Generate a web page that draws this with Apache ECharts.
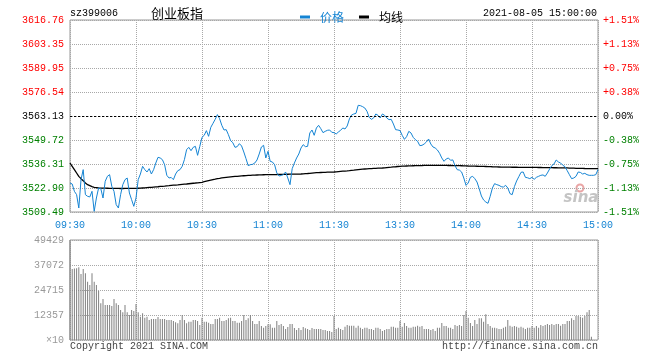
<!DOCTYPE html>
<html>
<head>
<meta charset="utf-8">
<script src="https://cdn.jsdelivr.net/npm/echarts@6/dist/echarts.min.js"></script>
<style>html,body{margin:0;padding:0;background:#fff;}#c{width:660px;height:360px;}</style>
</head>
<body>
<div id="c"></div>
<script>
// ---------- data ----------
const code = 'sz399006';
const title = '创业板指';
const stamp = '2021-08-05 15:00:00';
const preClose = 3563.13;
const timeLabels = ['09:30','10:00','10:30','11:00','11:30','13:30','14:00','14:30','15:00'];
const priceTicks = ['3509.49','3522.90','3536.31','3549.72','3563.13','3576.54','3589.95','3603.35','3616.76'];
const pctTicks = ['-1.51%','-1.13%','-0.75%','-0.38%','0.00%','+0.38%','+0.75%','+1.13%','+1.51%'];
const volTicks = ['\u00d710','12357','24715','37072','49429'];
const priceMin = 3509.49, priceMax = 3616.76;
const volMax = 49429;

const price = [
3525.70,3525.14,3521.04,3519.18,3511.73,3527.56,3533.15,3519.18,3518.25,3517.90,
3521.04,3509.86,3517.31,3522.90,3522.53,3517.31,3526.63,3529.42,3530.35,3523.83,
3521.04,3513.59,3511.73,3519.18,3524.76,3527.56,3528.49,3520.11,3516.38,3512.66,
3517.31,3527.56,3530.72,3535.01,3533.15,3531.84,3533.70,3530.72,3533.15,3536.87,
3540.04,3539.66,3538.73,3535.94,3529.98,3528.49,3528.80,3527.56,3530.72,3532.59,
3533.15,3535.01,3538.73,3544.32,3545.62,3543.76,3545.62,3546.18,3541.15,3546.18,
3551.21,3552.33,3554.94,3551.77,3556.80,3559.03,3561.27,3563.88,3561.64,3557.92,
3555.31,3555.50,3552.70,3549.35,3548.23,3545.62,3546.00,3547.67,3546.37,3543.02,
3539.29,3535.38,3535.94,3536.13,3536.87,3538.55,3541.90,3545.81,3546.74,3539.66,
3543.39,3537.80,3537.43,3535.94,3531.28,3529.61,3529.90,3530.35,3531.84,3528.49,
3524.76,3533.70,3536.87,3539.66,3541.90,3545.25,3547.11,3546.00,3546.18,3553.63,
3555.31,3552.33,3556.43,3557.92,3556.05,3553.82,3554.56,3555.12,3555.31,3554.01,
3553.82,3553.07,3554.19,3555.12,3556.43,3555.87,3557.54,3561.46,3563.69,3564.25,
3564.62,3569.09,3568.90,3568.35,3567.60,3565.74,3562.39,3561.27,3562.01,3564.25,
3563.50,3562.01,3564.25,3563.50,3562.01,3561.08,3561.27,3558.66,3555.50,3555.31,
3555.00,3552.33,3550.09,3551.58,3554.56,3553.63,3551.21,3549.91,3548.98,3546.56,
3546.74,3547.49,3548.60,3550.28,3547.49,3545.81,3545.25,3544.13,3542.27,3539.66,
3537.80,3539.11,3539.66,3538.36,3538.60,3535.38,3533.15,3532.90,3531.84,3528.49,
3524.39,3525.70,3528.86,3529.42,3528.12,3526.25,3522.53,3518.43,3516.20,3515.08,
3514.33,3518.25,3522.90,3525.32,3524.76,3524.39,3523.65,3523.40,3524.39,3522.90,
3519.74,3519.18,3523.65,3526.81,3529.23,3531.66,3531.84,3528.86,3528.60,3528.12,
3528.86,3527.74,3528.86,3529.42,3529.98,3530.20,3529.42,3531.28,3533.52,3535.38,
3536.31,3538.55,3537.43,3536.87,3535.57,3534.82,3532.59,3530.35,3528.12,3528.49,
3529.42,3531.84,3531.60,3530.72,3531.10,3530.35,3529.98,3529.98,3529.98,3530.35,
3533.15
];

const avgPrice = [
3536.87,3535.01,3533.15,3531.28,3529.42,3528.12,3527.00,3525.70,3524.76,3524.21,3523.65,3523.27,3523.09,
3522.90,3522.85,3522.80,3522.78,3522.75,3522.72,3522.70,3522.68,3522.66,3522.64,3522.62,3522.62,3522.64,3522.66,3522.66,3522.66,3522.68,3522.70,
3522.75,3522.80,3522.90,3523.00,3523.10,3523.20,3523.27,
3523.40,3523.50,3523.60,3523.75,3523.85,3523.95,3524.10,3524.21,
3524.33,3524.45,3524.55,3524.66,3524.78,3524.90,3525.02,3525.14,
3525.28,3525.42,3525.55,3525.68,3525.80,3525.94,3526.07,
3526.40,3526.70,3527.00,3527.30,3527.60,3527.85,3528.12,
3528.30,3528.50,3528.65,3528.80,3528.95,3529.10,3529.23,
3529.35,3529.45,3529.55,3529.65,3529.75,3529.82,3529.90,3529.98,
3530.05,3530.10,3530.15,3530.20,3530.25,3530.30,3530.33,3530.35,
3530.38,3530.40,3530.42,3530.44,3530.47,3530.50,3530.54,
3530.56,3530.58,3530.60,3530.62,3530.64,3530.66,3530.69,3530.72,
3530.80,3530.90,3531.00,3531.12,3531.24,3531.36,3531.47,
3531.52,3531.57,3531.62,3531.67,3531.72,3531.77,3531.80,3531.84,
3531.95,3532.06,3532.17,3532.28,3532.38,3532.48,3532.59,
3532.72,3532.85,3533.00,3533.13,3533.26,3533.39,3533.52,
3533.60,3533.67,3533.74,3533.81,3533.88,3533.95,3534.02,3534.08,
3534.20,3534.32,3534.44,3534.55,3534.67,3534.78,3534.90,3535.01,
3535.07,3535.12,3535.18,3535.23,3535.28,3535.33,3535.38,
3535.41,3535.44,3535.46,3535.49,3535.51,3535.53,3535.55,3535.57,
3535.57,3535.56,3535.55,3535.54,3535.52,3535.50,3535.48,3535.46,3535.44,3535.42,3535.40,3535.37,3535.34,3535.30,3535.25,
3535.20,3535.16,3535.12,3535.09,3535.06,3535.03,3535.01,
3534.96,3534.91,3534.86,3534.81,3534.76,3534.72,3534.68,3534.64,
3534.60,3534.58,3534.56,3534.54,3534.52,3534.50,3534.49,3534.48,3534.47,3534.46,3534.45,3534.44,3534.43,3534.42,3534.41,3534.40,3534.38,3534.36,3534.34,3534.32,3534.30,3534.28,3534.26,3534.24,3534.22,3534.20,3534.18,3534.16,3534.14,3534.12,3534.10,3534.05,3534.00,
3533.95,3533.90,3533.87,3533.84,3533.81,3533.78,3533.76,3533.74,3533.72,3533.71,3533.70,3533.70
];

const volume = [
49429,35095,35300,35425,35919,32624,35095,32953,28834,27187,
32953,28834,27187,24221,18125,20267,17301,17301,17301,16807,
20267,18125,17301,14830,13676,17301,13676,12358,14830,14335,
17795,13676,11534,13182,11040,11534,9887,10381,10381,10381,
11370,10381,10381,10381,9887,9887,9887,9393,8733,8239,
9887,12358,9887,8239,9063,9063,9887,9887,9393,7415,
11040,9063,9063,8569,7910,7910,10381,10381,11040,9393,
9393,9887,10711,11040,9393,9393,8569,8569,9393,12358,
9887,10711,12358,9393,7910,7910,9393,6921,6097,6921,
7745,7745,6097,6097,9393,7415,7910,6921,5438,6427,
7910,7910,5933,4944,5933,4944,6427,5768,5438,4944,
5933,5438,5438,5438,5438,4944,4944,4450,4450,3955,
11864,5438,6097,5438,4944,6592,7415,7086,7086,7086,
6097,7086,6097,5438,6097,6097,5438,5438,4944,6097,
6097,5438,4450,4944,5438,5438,6592,6592,6097,6097,
9393,6592,8404,6921,6097,6097,6592,6592,7086,6592,
6921,5438,5438,5438,4944,5438,4450,6097,6097,8404,
6921,6921,6097,6097,5438,7415,6921,7415,6921,12358,
14335,11040,8404,6921,9887,7910,10711,10711,9063,12688,
7910,6921,6097,6097,5768,5438,5438,6097,6592,9887,
7086,6592,6921,6592,6097,6592,6097,5438,6097,6097,
6921,6097,6921,6097,7415,6921,7415,7910,7415,7910,
7415,7910,7910,7086,7910,7910,9393,9393,10711,9887,
11864,11864,11534,11040,11864,13676,14830,1649,0,0,
0
];

// minute categories: 09:30-11:30, 13:01-15:00
const times = [];
function pad(n){return (n<10?'0':'')+n;}
for (let t = 9*60+30; t <= 11*60+30; t++) times.push(pad(Math.floor(t/60))+':'+pad(t%60));
for (let t = 13*60+1; t <= 15*60; t++) times.push(pad(Math.floor(t/60))+':'+pad(t%60));

// ---------- chart ----------
const MONO = '"Liberation Mono","DejaVu Sans Mono",monospace';
const CJK = '"Noto Sans CJK SC","Noto Sans",sans-serif';
const BLUE = '#1584d3';
const RED = '#ff0000', GREEN = '#008000';
const GRIDC = '#a8a8a8';
const priceStep = (priceMax - priceMin) / 8;
const volStep = volMax / 4;

function tickIdx(v, min, step){ return Math.round((v - min) / step); }
function sideColor(v, i){
  const k = tickIdx(+v, priceMin, priceStep);
  return k > 4 ? RED : (k < 4 ? GREEN : '#000');
}
const every30 = (i) => i % 30 === 0;

const chart = echarts.init(document.getElementById('c'), null, {renderer: 'canvas'});
chart.setOption({
  animation: false,
  backgroundColor: '#fff',
  grid: [
    {left: 70, top: 20, width: 528, height: 192, show: true, borderColor: '#999', borderWidth: 1},
    {left: 70, top: 240, width: 528, height: 100, show: true, borderColor: '#999', borderWidth: 1}
  ],
  legend: {
    left: 295, top: 6, itemWidth: 10, itemHeight: 3, icon: 'rect', itemGap: 15,
    selectedMode: false,
    textStyle: {fontFamily: CJK, fontSize: 12, padding: [0, 0, 0, 5]},
    data: [
      {name: '价格', textStyle: {color: BLUE}},
      {name: '均线', textStyle: {color: '#000'}}
    ]
  },
  xAxis: [
    {
      type: 'category', gridIndex: 0, data: times, boundaryGap: false,
      axisLine: {show: false}, axisTick: {show: false},
      axisLabel: {
        interval: (i) => every30(i),
        formatter: (v, i) => timeLabels[Math.round(i / 30)],
        color: BLUE, fontFamily: MONO, fontSize: 10, margin: 8
      },
      splitLine: {show: true, interval: (i) => every30(i), lineStyle: {color: GRIDC, type: 'dotted', width: 1}}
    },
    {
      type: 'category', gridIndex: 1, data: times, boundaryGap: false,
      axisLine: {show: false}, axisTick: {show: false}, axisLabel: {show: false},
      splitLine: {show: true, interval: (i) => every30(i), lineStyle: {color: GRIDC, type: 'dotted', width: 1}}
    }
  ],
  yAxis: [
    {
      type: 'value', gridIndex: 0, min: priceMin, max: priceMax, interval: priceStep,
      axisLine: {show: false}, axisTick: {show: false},
      axisLabel: {
        formatter: (v) => priceTicks[tickIdx(v, priceMin, priceStep)],
        color: sideColor, fontFamily: MONO, fontSize: 10, margin: 6
      },
      splitLine: {show: true, lineStyle: {color: GRIDC, type: 'dotted', width: 1}}
    },
    {
      type: 'value', gridIndex: 0, position: 'right', min: priceMin, max: priceMax, interval: priceStep,
      axisLine: {show: false}, axisTick: {show: false},
      axisLabel: {
        formatter: (v) => pctTicks[tickIdx(v, priceMin, priceStep)],
        color: sideColor, fontFamily: MONO, fontSize: 10, margin: 5
      },
      splitLine: {show: false}
    },
    {
      type: 'value', gridIndex: 1, min: 0, max: volMax, interval: volStep,
      axisLine: {show: false}, axisTick: {show: false},
      axisLabel: {
        formatter: (v) => volTicks[tickIdx(v, 0, volStep)],
        color: '#999', fontFamily: MONO, fontSize: 10, margin: 6
      },
      splitLine: {show: true, lineStyle: {color: GRIDC, type: 'dotted', width: 1}}
    }
  ],
  series: [
    {
      name: '价格', type: 'line', xAxisIndex: 0, yAxisIndex: 0, data: price,
      symbol: 'none', lineStyle: {color: BLUE, width: 1}, itemStyle: {color: BLUE},
      z: 3,
      markLine: {
        silent: true, symbol: 'none', label: {show: false},
        lineStyle: {color: '#000', type: [2, 2], width: 1},
        data: [{yAxis: preClose}]
      }
    },
    {
      name: '均线', type: 'line', xAxisIndex: 0, yAxisIndex: 0, data: avgPrice,
      symbol: 'none', lineStyle: {color: '#000', width: 1.3}, itemStyle: {color: '#000'}, z: 2
    },
    {
      name: '成交量', type: 'bar', xAxisIndex: 1, yAxisIndex: 2, data: volume,
      barWidth: 1, clip: false, itemStyle: {color: '#808080'}
    }
  ],
  graphic: [
    {type: 'text', silent: true, style: {x: 70, y: 13, text: code, font: '10px ' + MONO, fill: '#000', textVerticalAlign: 'middle'}},
    {type: 'text', silent: true, style: {x: 177, y: 13, text: title, font: '13px ' + CJK, fill: '#000', textAlign: 'center', textVerticalAlign: 'middle'}},
    {type: 'text', silent: true, style: {x: 597, y: 13, text: stamp, font: '10px ' + MONO, fill: '#000', textAlign: 'right', textVerticalAlign: 'middle'}},
    {type: 'text', silent: true, style: {x: 70, y: 346, text: 'Copyright 2021 SINA.COM', font: '10px ' + MONO, fill: '#444', textVerticalAlign: 'middle'}},
    {type: 'text', silent: true, style: {x: 598, y: 346, text: 'http://finance.sina.com.cn', font: '10px ' + MONO, fill: '#444', textAlign: 'right', textVerticalAlign: 'middle'}},
    {type: 'circle', silent: true, shape: {cx: 580, cy: 188, r: 3.5}, style: {fill: 'none', stroke: '#e9a5a5', lineWidth: 2}},
    {type: 'text', silent: true, style: {x: 581, y: 198, text: 'sina', font: 'italic bold 15px "DejaVu Sans",sans-serif', fill: '#c4c4c4', textAlign: 'center', textVerticalAlign: 'middle'}}
  ]
});
</script>
</body>
</html>
